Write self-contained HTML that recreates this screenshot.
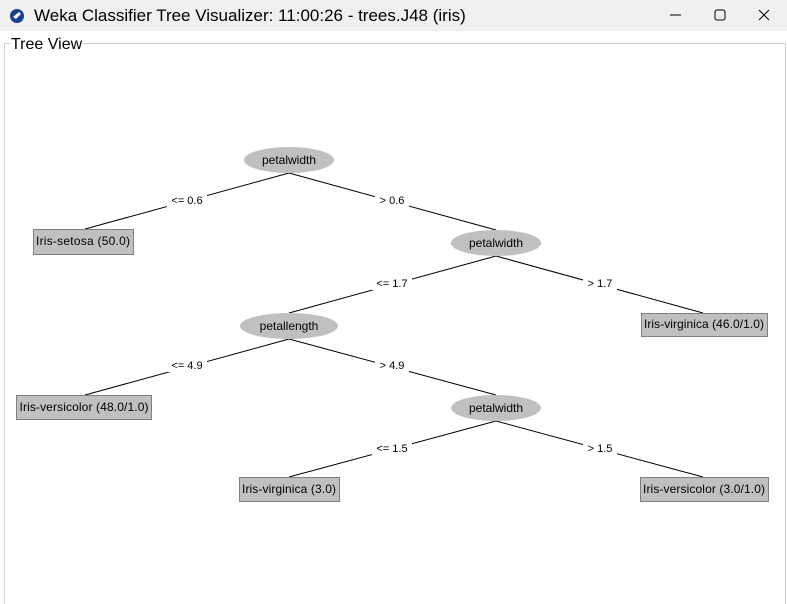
<!DOCTYPE html>
<html><head><style>
body{margin:0;width:787px;height:592px;overflow:hidden;background:#fff;font-family:"Liberation Sans",sans-serif;position:relative}
.tb{position:absolute;left:0;top:0;width:787px;height:31px;background:#f0f0f0}
.tt{position:absolute;left:34px;top:6px;font-size:17px;color:#000}
.panel{position:absolute;left:4px;top:43px;width:780px;height:560px;border:1px solid #cfcfcf;border-bottom:none}
.pt{position:absolute;left:10px;top:36px;font-size:16px;background:#fff;padding:0 1px}
svg{position:absolute;left:0;top:0}
</style></head><body>
<div class="tb"><div class="tt">Weka Classifier Tree Visualizer: 11:00:26 - trees.J48 (iris)</div>
<svg width="787" height="31"><circle cx="17" cy="16" r="7" fill="#1a3f8f"/><path d="M13 17 L19 12 L21 14 L16 19 Z" fill="#fff"/>
<line x1="670" y1="15" x2="681" y2="15" stroke="#000"/><rect x="715" y="10" width="10" height="10" rx="2" fill="none" stroke="#000"/>
<path d="M759 10 L769 20 M769 10 L759 20" stroke="#000"/></svg></div>
<div class="panel"></div><div class="pt">Tree View</div>
<svg width="787" height="592" font-family="Liberation Sans, sans-serif" font-size="11">
<g stroke="#000" stroke-width="1">
<line x1="289" y1="173" x2="85" y2="229"/><line x1="289" y1="173" x2="496" y2="230"/>
<line x1="496" y1="256" x2="289" y2="313"/><line x1="496" y1="256" x2="703" y2="313"/>
<line x1="289" y1="339" x2="85" y2="395"/><line x1="289" y1="339" x2="496" y2="395"/>
<line x1="496" y1="421" x2="289" y2="477"/><line x1="496" y1="421" x2="703" y2="477"/>
</g>
<g fill="#fff">
<rect x="167" y="193" width="40" height="14"/><rect x="375" y="193" width="34" height="14"/>
<rect x="372" y="276" width="40" height="14"/><rect x="583" y="276" width="34" height="14"/>
<rect x="167" y="358" width="40" height="14"/><rect x="375" y="358" width="34" height="14"/>
<rect x="372" y="441" width="40" height="14"/><rect x="583" y="441" width="34" height="14"/>
</g>
<g text-anchor="middle" fill="#000">
<text x="187" y="204">&lt;= 0.6</text><text x="392" y="204">&gt; 0.6</text>
<text x="392" y="287">&lt;= 1.7</text><text x="600" y="287">&gt; 1.7</text>
<text x="187" y="369">&lt;= 4.9</text><text x="392" y="369">&gt; 4.9</text>
<text x="392" y="452">&lt;= 1.5</text><text x="600" y="452">&gt; 1.5</text>
</g>
<g fill="#c0c0c0">
<ellipse cx="289" cy="160" rx="45" ry="13"/><ellipse cx="496" cy="243" rx="45" ry="13"/>
<ellipse cx="289" cy="326" rx="49" ry="13"/><ellipse cx="496" cy="408" rx="45" ry="13"/>
</g>
<g fill="#c0c0c0" stroke="#808080">
<rect x="33.5" y="229.5" width="100" height="25"/><rect x="641.5" y="313.5" width="126" height="23"/>
<rect x="16.5" y="395.5" width="135" height="24"/><rect x="239.5" y="477.5" width="100" height="24"/>
<rect x="640.5" y="477.5" width="128" height="24"/>
</g>
<g text-anchor="middle" fill="#000" font-size="12">
<text x="289" y="164">petalwidth</text><text x="496" y="247">petalwidth</text>
<text x="289" y="330">petallength</text><text x="496" y="412">petalwidth</text>
<text x="83" y="245" textLength="94">Iris-setosa (50.0)</text><text x="704" y="328" textLength="120">Iris-virginica (46.0/1.0)</text>
<text x="84" y="411" textLength="129">Iris-versicolor (48.0/1.0)</text><text x="289" y="493" textLength="94">Iris-virginica (3.0)</text>
<text x="704" y="493" textLength="122">Iris-versicolor (3.0/1.0)</text>
</g>
</svg>
</body></html>
